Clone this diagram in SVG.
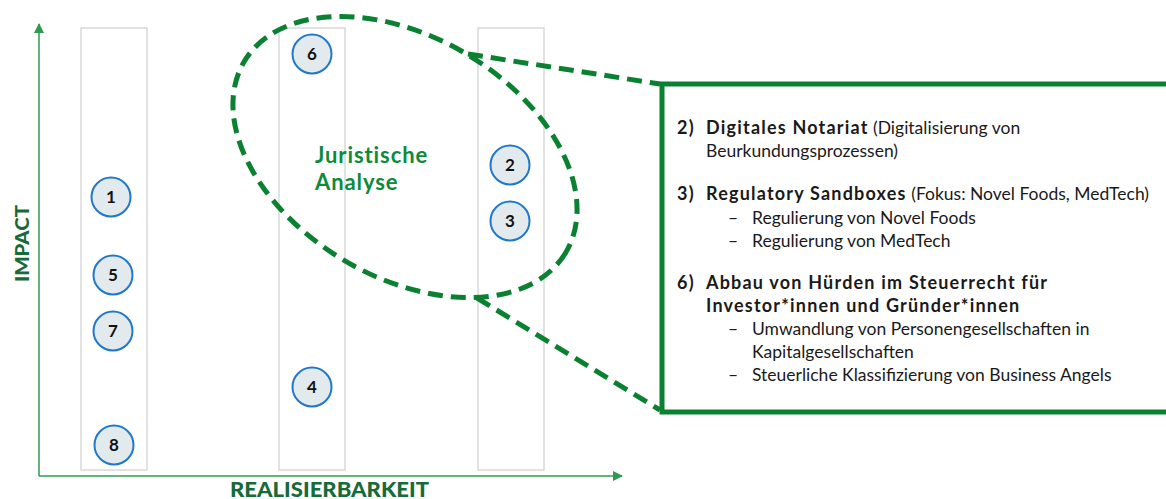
<svg xmlns="http://www.w3.org/2000/svg" width="1166" height="499" viewBox="0 0 1166 499">
  <style>
    .col { fill: #ffffff; stroke: #d9d9d9; stroke-width: 1.5; }
    .dot { fill: #e3eaee; stroke: #1f78c8; stroke-width: 2; }
    .num { font-family: Lato, "Liberation Sans", sans-serif; font-weight: 700; font-size: 17px; fill: #111111; text-anchor: middle; }
    .axis { stroke: #2f9a4f; stroke-width: 1.5; fill: none; }
    .axislabel { font-family: Lato, "Liberation Sans", sans-serif; font-weight: 900; font-size: 21px; fill: #176b38; }
    .dash { fill: none; stroke: #0a8131; stroke-width: 5; stroke-dasharray: 15 8; }
    .frame { fill: #ffffff; stroke: #0a8131; stroke-width: 5; }
    .group { font-family: Lato, "Liberation Sans", sans-serif; font-weight: 700; font-size: 22px; letter-spacing: 0.9px; fill: #0e8a3a; }
    .t { font-family: Lato, "Liberation Sans", sans-serif; font-size: 17.5px; fill: #1a1a1a; }
    .b { font-weight: 700; font-size: 18px; letter-spacing: 1.2px; }
  </style>
  <defs>
    <marker id="tip" viewBox="0 0 10 10" refX="9" refY="5" markerWidth="10" markerHeight="10" markerUnits="userSpaceOnUse" orient="auto">
      <path d="M0,0 L10,5 L0,10 Z" fill="#2f9a4f"/>
    </marker>
  </defs>

  <!-- feasibility columns -->
  <g id="columns">
    <rect class="col" x="81" y="28" width="66" height="442"/>
    <rect class="col" x="279" y="28" width="66" height="442"/>
    <rect class="col" x="478" y="28" width="66" height="442"/>
  </g>

  <!-- axes -->
  <g id="axes">
    <line class="axis" x1="39" y1="476" x2="39" y2="24" marker-end="url(#tip)"/>
    <line class="axis" x1="39" y1="476" x2="622" y2="476" marker-end="url(#tip)"/>
    <text class="axislabel" x="230" y="497" textLength="199" lengthAdjust="spacingAndGlyphs">REALISIERBARKEIT</text>
    <text class="axislabel" transform="translate(29,282) rotate(-90)" textLength="77" lengthAdjust="spacingAndGlyphs" style="font-size:19px">IMPACT</text>
  </g>

  <!-- detail panel -->
  <g id="panel">
    <rect class="frame" x="662" y="84" width="520" height="328"/>
    <text class="t"><tspan class="b" x="677" y="134">2)</tspan><tspan class="b" x="706">Digitales Notariat</tspan><tspan> (Digitalisierung von</tspan></text>
    <text class="t" x="706" y="157">Beurkundungsprozessen)</text>
    <text class="t"><tspan class="b" x="677" y="200">3)</tspan><tspan class="b" x="706">Regulatory Sandboxes</tspan><tspan> (Fokus: Novel Foods, MedTech)</tspan></text>
    <text class="t"><tspan x="728" y="224">–</tspan><tspan x="752">Regulierung von Novel Foods</tspan></text>
    <text class="t"><tspan x="728" y="247">–</tspan><tspan x="752">Regulierung von MedTech</tspan></text>
    <text class="t b"><tspan x="677" y="289">6)</tspan><tspan x="706">Abbau von Hürden im Steuerrecht für</tspan></text>
    <text class="t b" x="706" y="312">Investor*innen und Gründer*innen</text>
    <text class="t"><tspan x="728" y="335">–</tspan><tspan x="752">Umwandlung von Personengesellschaften in</tspan></text>
    <text class="t" x="752" y="358">Kapitalgesellschaften</text>
    <text class="t"><tspan x="728" y="381">–</tspan><tspan x="752">Steuerliche Klassifizierung von Business Angels</tspan></text>
  </g>

  <!-- callout outline and leader lines -->
  <g id="connectors">
    <ellipse class="dash" cx="405" cy="157" rx="187" ry="120" transform="rotate(30.7 405 157)"/>
    <line class="dash" x1="468" y1="54" x2="660" y2="84"/>
    <line class="dash" x1="477" y1="298" x2="660" y2="410"/>
  </g>

  <g id="group-label">
    <text class="group" x="315" y="163">Juristische</text>
    <text class="group" x="315" y="190">Analyse</text>
  </g>

  <!-- numbered items -->
  <g id="n1"><circle class="dot" cx="111" cy="197" r="19.5"/><text class="num" x="111" y="203">1</text></g>
  <g id="n5"><circle class="dot" cx="113" cy="275" r="19.5"/><text class="num" x="113" y="281">5</text></g>
  <g id="n7"><circle class="dot" cx="113" cy="331" r="19.5"/><text class="num" x="113" y="337">7</text></g>
  <g id="n8"><circle class="dot" cx="114" cy="445" r="19.5"/><text class="num" x="114" y="451">8</text></g>
  <g id="n6"><circle class="dot" cx="312" cy="54" r="19.5"/><text class="num" x="312" y="60">6</text></g>
  <g id="n4"><circle class="dot" cx="312" cy="387" r="19.5"/><text class="num" x="312" y="393">4</text></g>
  <g id="n2"><circle class="dot" cx="510" cy="165" r="19.5"/><text class="num" x="510" y="171">2</text></g>
  <g id="n3"><circle class="dot" cx="510" cy="221" r="19.5"/><text class="num" x="510" y="227">3</text></g>
</svg>
